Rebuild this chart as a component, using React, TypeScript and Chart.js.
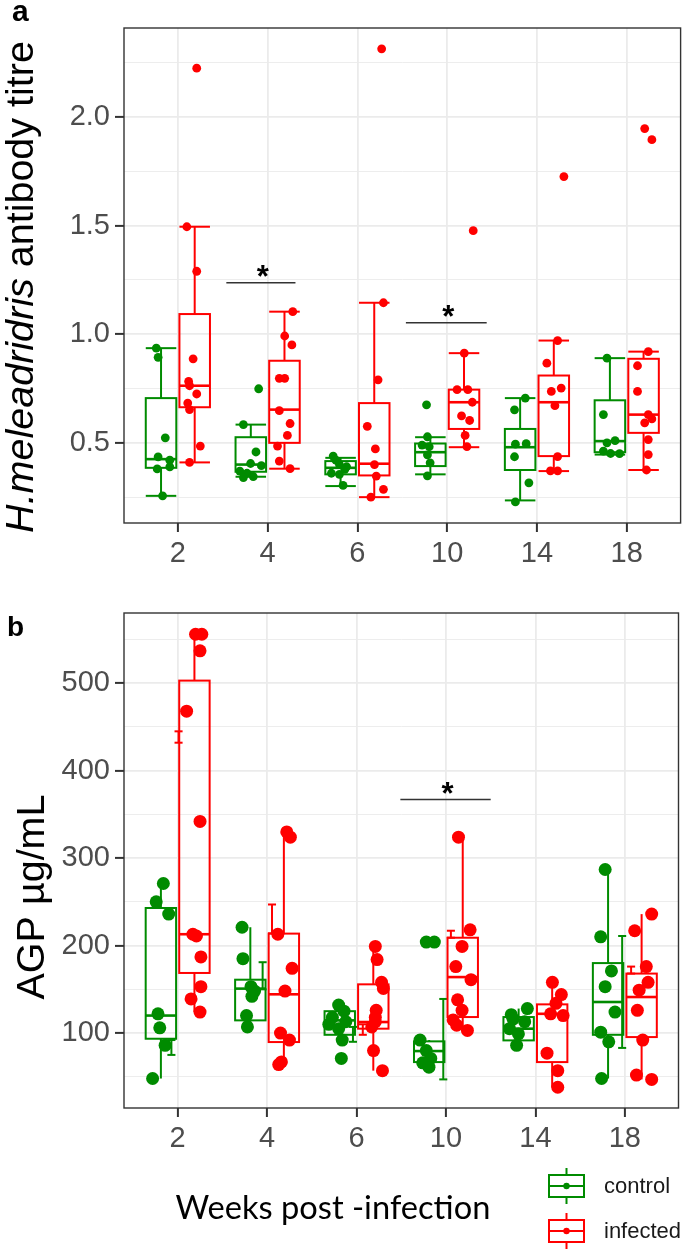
import React, { useEffect, useRef } from 'react';
import { Chart, registerables } from 'chart.js';

Chart.register(...registerables);

// ---------- data ----------
const weeks = ['2', '4', '6', '10', '14', '18'];
const groupNames = ['control', 'infected'];
const GREEN = '#008B00';
const RED = '#FF0000';

// Panel a: H. meleagridis antibody titre
// box stats per week: [lower whisker, Q1, median, Q3, upper whisker]
const titreCtrlBox = [
  [0.256, 0.385, 0.425, 0.706, 0.936],
  [0.344, 0.367, 0.4, 0.526, 0.584],
  [0.301, 0.355, 0.385, 0.416, 0.431],
  [0.355, 0.393, 0.457, 0.497, 0.526],
  [0.235, 0.375, 0.48, 0.564, 0.706],
  [0.446, 0.457, 0.508, 0.696, 0.89],
];
const titreInfBox = [
  [0.41, 0.664, 0.763, 1.093, 1.495],
  [0.381, 0.5, 0.653, 0.878, 1.104],
  [0.25, 0.35, 0.404, 0.683, 1.145],
  [0.48, 0.564, 0.687, 0.745, 0.913],
  [0.37, 0.439, 0.687, 0.81, 0.971],
  [0.375, 0.546, 0.63, 0.887, 0.92],
];
const titreCtrlVals = [
  [0.936, 0.894, 0.523, 0.435, 0.42, 0.389, 0.38, 0.256],
  [0.749, 0.584, 0.458, 0.405, 0.395, 0.37, 0.36, 0.345, 0.34],
  [0.439, 0.42, 0.4, 0.39, 0.378, 0.36, 0.355, 0.304],
  [0.675, 0.528, 0.49, 0.482, 0.445, 0.408, 0.348],
  [0.706, 0.652, 0.496, 0.494, 0.436, 0.316, 0.228],
  [0.89, 0.63, 0.51, 0.5, 0.462, 0.451, 0.45],
];
const titreCtrlJitter = [
  [-0.24, -0.22, -0.14, -0.22, -0.09, -0.09, -0.23, -0.17],
  [-0.1, -0.27, -0.13, -0.19, -0.07, -0.31, -0.23, -0.16, -0.27],
  [-0.27, -0.24, -0.2, -0.12, -0.14, -0.29, -0.2, -0.16],
  [-0.23, -0.22, -0.28, -0.2, -0.22, -0.19, -0.22],
  [-0.13, -0.25, -0.12, -0.24, -0.25, -0.09, -0.24],
  [-0.22, -0.26, -0.13, -0.22, -0.26, -0.18, -0.08],
];
const titreInfVals = [
  [2.225, 1.495, 1.29, 0.887, 0.783, 0.763, 0.725, 0.683, 0.653, 0.485, 0.41],
  [1.104, 0.992, 0.951, 0.797, 0.797, 0.648, 0.589, 0.534, 0.485, 0.416, 0.381],
  [2.314, 1.145, 0.79, 0.576, 0.472, 0.4, 0.347, 0.286, 0.25],
  [1.477, 0.913, 0.745, 0.745, 0.687, 0.624, 0.603, 0.534, 0.483],
  [1.726, 0.971, 0.867, 0.752, 0.737, 0.671, 0.437, 0.371, 0.371],
  [1.947, 1.896, 0.92, 0.855, 0.737, 0.63, 0.61, 0.592, 0.515, 0.446, 0.375],
];
const titreInfJitter = [
  [0.21, 0.1, 0.21, 0.17, 0.12, 0.13, 0.21, 0.11, 0.13, 0.25, 0.13],
  [0.28, 0.19, 0.27, 0.13, 0.19, 0.13, 0.25, 0.22, 0.11, 0.13, 0.25],
  [0.27, 0.29, 0.23, 0.11, 0.2, 0.19, 0.21, 0.29, 0.15],
  [0.29, 0.19, 0.11, 0.23, 0.28, 0.16, 0.25, 0.2, 0.22],
  [0.3, 0.23, 0.11, 0.27, 0.16, 0.2, 0.23, 0.15, 0.23],
  [0.2, 0.28, 0.24, 0.12, 0.12, 0.24, 0.28, 0.2, 0.24, 0.24, 0.22],
];
const titreMajor = [0.5, 1.0, 1.5, 2.0];
const titreMinor = [0.25, 0.75, 1.25, 1.75, 2.25];
const titreRange = [0.131, 2.41];
// significance bars: [x from, x to, y]
const titreSig = [
  [1.54, 2.31, 1.237],
  [3.54, 4.44, 1.053],
];

// Panel b: AGP
const agpCtrlBox = [
  [48, 93.5, 120, 243, 271],
  [107, 114.5, 150.8, 161, 221],
  [88, 98, 114.5, 125, 132],
  [61, 66.8, 79.4, 90.5, 92],
  [86, 91.6, 105, 118.3, 128],
  [48, 98, 135.5, 180, 287],
];
const agpInfBox = [
  [124, 168.7, 213, 503, 556],
  [64, 89.7, 144.3, 213.7, 330],
  [57, 105, 112.6, 155.7, 199],
  [103, 118.3, 164, 209, 324],
  [38, 66.8, 122, 132.8, 158],
  [47, 95.4, 141.2, 168, 236],
];
const agpCtrlVals = [
  [271, 250, 236, 122, 106, 86, 48],
  [221, 185, 153, 148, 142, 120, 107],
  [132, 125, 118, 113, 110, 105, 92, 71],
  [204, 204, 92, 80, 71, 66, 61],
  [128, 121, 116, 113, 105, 99, 86],
  [287, 210, 171, 153, 124, 101, 90, 48],
];
const agpCtrlJitter = [
  [-0.16, -0.24, -0.1, -0.22, -0.2, -0.14, -0.28],
  [-0.28, -0.27, -0.18, -0.14, -0.17, -0.23, -0.22],
  [-0.2, -0.14, -0.27, -0.12, -0.31, -0.2, -0.16, -0.17],
  [-0.22, -0.13, -0.29, -0.22, -0.17, -0.26, -0.19],
  [-0.09, -0.27, -0.25, -0.12, -0.29, -0.19, -0.21],
  [-0.22, -0.27, -0.15, -0.22, -0.11, -0.27, -0.18, -0.26],
];
const agpInfVals = [
  [556, 556, 537, 468, 342, 213, 211, 187, 153, 139, 124],
  [330, 324, 213, 174, 148, 100, 92, 67, 64],
  [199, 184, 158, 151, 126, 118, 113, 107, 80, 57],
  [324, 218, 199, 176, 161, 138, 126, 115, 109, 103],
  [158, 144, 134, 122, 120, 77, 57, 38],
  [236, 217, 176, 158, 149, 126, 92, 52, 47],
];
const agpInfJitter = [
  [0.2, 0.27, 0.25, 0.1, 0.25, 0.17, 0.21, 0.26, 0.26, 0.15, 0.25],
  [0.22, 0.26, 0.12, 0.28, 0.2, 0.15, 0.25, 0.16, 0.13],
  [0.21, 0.23, 0.28, 0.3, 0.22, 0.21, 0.21, 0.17, 0.19, 0.29],
  [0.14, 0.27, 0.18, 0.11, 0.28, 0.13, 0.18, 0.08, 0.12, 0.24],
  [0.19, 0.29, 0.23, 0.17, 0.31, 0.13, 0.25, 0.25],
  [0.3, 0.11, 0.24, 0.26, 0.16, 0.14, 0.2, 0.13, 0.3],
];
// small error bars: [x offset, low, high] (null = none)
const agpCtrlErr = [
  [-0.07, 75, 92],
  [-0.05, 150, 181],
  [-0.04, 90, 107],
  [-0.03, 47, 139],
  null,
  [-0.03, 83, 211],
];
const agpInfErr = [
  [0.01, 432, 445],
  [0.055, 214, 247],
  [0.07, 98, 110],
  [0.055, 209, 217],
  null,
  [0.07, 168, 176],
];
const agpMajor = [100, 200, 300, 400, 500];
const agpMinor = [50, 150, 250, 350, 450, 550];
const agpRange = [14.3, 580.3];
const agpSig = [[3.49, 4.5, 367]];

// ---------- helpers ----------
const BOX_OFFSET = 0.1875;
const BOX_WIDTH = 0.34;
const TICK_FONT = { family: "'Liberation Sans', Arial, sans-serif", size: 29 };
const TICK_COLOR = '#4D4D4D';

function pointsOf(vals: number[][], jit: number[][]) {
  const out: { x: number; y: number }[] = [];
  vals.forEach((arr, i) => arr.forEach((v, j) => out.push({ x: i + 1 + jit[i][j], y: v })));
  return out;
}

const near = (a: number, list: number[]) => list.some((m) => Math.abs(m - a) < 1e-6);

function line(ctx: CanvasRenderingContext2D, x1: number, y1: number, x2: number, y2: number) {
  ctx.beginPath();
  ctx.moveTo(x1, y1);
  ctx.lineTo(x2, y2);
  ctx.stroke();
}

const boxPlugin = {
  id: 'boxes',
  beforeDatasetsDraw(chart: any, _a: any, opts: any) {
    const { ctx, scales } = chart;
    const x = scales.x;
    const y = scales.y;
    ctx.save();
    ctx.lineWidth = 2;
    ctx.lineCap = 'butt';
    (opts.groups || []).forEach((g: any) => {
      ctx.strokeStyle = g.color;
      if (g.errs) {
        g.errs.forEach((e: any, i: number) => {
          if (!e) return;
          const cx = x.getPixelForValue(i + 1 + e[0]);
          const lo = y.getPixelForValue(e[1]);
          const hi = y.getPixelForValue(e[2]);
          const hw = 0.045 * (x.getPixelForValue(2) - x.getPixelForValue(1));
          line(ctx, cx, lo, cx, hi);
          line(ctx, cx - hw, lo, cx + hw, lo);
          line(ctx, cx - hw, hi, cx + hw, hi);
        });
      }
      g.stats.forEach((s: number[], i: number) => {
        const c = i + 1 + g.offset;
        const xl = x.getPixelForValue(c - BOX_WIDTH / 2);
        const xr = x.getPixelForValue(c + BOX_WIDTH / 2);
        const xc = x.getPixelForValue(c);
        const [lo, q1, med, q3, hi] = s.map((v) => y.getPixelForValue(v));
        line(ctx, xc, q3, xc, hi);
        line(ctx, xc, q1, xc, lo);
        if (opts.caps) {
          line(ctx, xl, hi, xr, hi);
          line(ctx, xl, lo, xr, lo);
        }
        ctx.strokeRect(xl, q3, xr - xl, q1 - q3);
        ctx.lineWidth = 2.6;
        line(ctx, xl, med, xr, med);
        ctx.lineWidth = 2;
      });
    });
    ctx.restore();
  },
  afterDatasetsDraw(chart: any, _a: any, opts: any) {
    const { ctx, scales, chartArea } = chart;
    const x = scales.x;
    const y = scales.y;
    ctx.save();
    // significance bars
    (opts.sig || []).forEach((s: number[]) => {
      const x1 = x.getPixelForValue(s[0]);
      const x2 = x.getPixelForValue(s[1]);
      const yy = y.getPixelForValue(s[2]);
      ctx.strokeStyle = '#333333';
      ctx.lineWidth = 1.6;
      line(ctx, x1, yy, x2, yy);
      ctx.fillStyle = '#000000';
      ctx.font = "bold 31px 'Liberation Sans', Arial, sans-serif";
      ctx.textAlign = 'center';
      ctx.textBaseline = 'alphabetic';
      ctx.fillText('*', (x1 + x2) / 2 + 2, yy + 4);
    });
    // panel border
    ctx.strokeStyle = '#333333';
    ctx.lineWidth = 1.4;
    ctx.strokeRect(chartArea.left, chartArea.top, chartArea.right - chartArea.left, chartArea.bottom - chartArea.top);
    ctx.restore();
  },
  afterDraw(chart: any, _a: any, opts: any) {
    const { ctx } = chart;
    ctx.save();
    // panel letter
    ctx.fillStyle = '#000';
    ctx.font = `bold ${opts.letter.size}px 'Liberation Sans', Arial, sans-serif`;
    ctx.textAlign = 'left';
    ctx.textBaseline = 'alphabetic';
    ctx.fillText(opts.letter.text, opts.letter.x, opts.letter.y);
    // y title (rotated, possibly with italic part), fitted to given length
    const parts: [string, boolean][] = opts.ytitle.parts;
    const fam = "'Liberation Sans', Arial, sans-serif";
    let total = 0;
    parts.forEach(([t, it]) => {
      ctx.font = `${it ? 'italic ' : ''}100px ${fam}`;
      total += ctx.measureText(t).width;
    });
    const size = (100 * opts.ytitle.length) / total;
    ctx.translate(opts.ytitle.x, opts.ytitle.cy);
    ctx.rotate(-Math.PI / 2);
    let w = 0;
    parts.forEach(([t, it]) => {
      ctx.font = `${it ? 'italic ' : ''}${size}px ${fam}`;
      w += ctx.measureText(t).width;
    });
    let px = -w / 2;
    parts.forEach(([t, it]) => {
      ctx.font = `${it ? 'italic ' : ''}${size}px ${fam}`;
      ctx.fillText(t, px, 0);
      px += ctx.measureText(t).width;
    });
    ctx.restore();

    if (opts.legend) {
      ctx.save();
      const L = opts.legend;
      // x axis title
      ctx.font = `100px Lato, 'Open Sans', sans-serif`;
      const tw = ctx.measureText(L.xtitle).width;
      ctx.font = `${(100 * L.xtitleWidth) / tw}px Lato, 'Open Sans', sans-serif`;
      ctx.fillStyle = '#000';
      ctx.textAlign = 'center';
      ctx.textBaseline = 'middle';
      ctx.fillText(L.xtitle, L.xtitleX, L.xtitleY);
      // legend keys
      L.items.forEach((it: any, k: number) => {
        const cy = L.y0 + k * L.dy;
        const x0 = L.x;
        const kw = 35;
        ctx.strokeStyle = it.color;
        ctx.fillStyle = it.color;
        ctx.lineWidth = 2;
        line(ctx, x0 + kw / 2, cy - 18, x0 + kw / 2, cy - 11);
        line(ctx, x0 + kw / 2, cy + 11, x0 + kw / 2, cy + 18);
        ctx.strokeRect(x0, cy - 11, kw, 22);
        line(ctx, x0, cy, x0 + kw, cy);
        ctx.beginPath();
        ctx.arc(x0 + kw / 2, cy, 3.2, 0, Math.PI * 2);
        ctx.fill();
        ctx.fillStyle = '#1a1a1a';
        ctx.font = "22px 'Liberation Sans', Arial, sans-serif";
        ctx.textAlign = 'left';
        ctx.textBaseline = 'middle';
        ctx.fillText(it.label, x0 + 55, cy + 1);
      });
      ctx.restore();
    }
  },
};

function makeConfig(p: any) {
  const ticksAll = [...p.major, ...p.minor].sort((a: number, b: number) => a - b);
  return {
    type: 'scatter',
    data: {
      datasets: [
        {
          label: groupNames[0],
          data: pointsOf(p.ctrlVals, p.ctrlJit),
          pointRadius: p.radius,
          pointBorderWidth: 0,
          pointBackgroundColor: GREEN,
          borderColor: GREEN,
        },
        {
          label: groupNames[1],
          data: pointsOf(p.infVals, p.infJit),
          pointRadius: p.radius,
          pointBorderWidth: 0,
          pointBackgroundColor: RED,
          borderColor: RED,
        },
      ],
    },
    options: {
      responsive: false,
      animation: false,
      events: [],
      layout: { padding: { top: p.padTop, right: 4, bottom: p.padBottom, left: 0 } },
      plugins: {
        legend: { display: false },
        tooltip: { enabled: false },
        boxes: {
          caps: p.caps,
          groups: [
            { stats: p.ctrlBox, offset: -BOX_OFFSET, color: GREEN, errs: p.ctrlErr },
            { stats: p.infBox, offset: BOX_OFFSET, color: RED, errs: p.infErr },
          ],
          sig: p.sig,
          letter: p.letter,
          ytitle: p.ytitle,
          legend: p.legend,
        },
      },
      scales: {
        x: {
          type: 'linear',
          min: 0.4,
          max: 6.6,
          afterBuildTicks: (s: any) => {
            s.ticks = weeks.map((_, i) => ({ value: i + 1 }));
          },
          afterFit: (s: any) => {
            s.height = p.xHeight;
          },
          ticks: {
            autoSkip: false,
            maxRotation: 0,
            padding: 5,
            font: TICK_FONT,
            color: TICK_COLOR,
            callback: (v: number) => weeks[Math.round(v) - 1],
          },
          grid: { color: '#EBEBEB', lineWidth: 1.8, tickColor: '#333333', tickLength: 9, tickWidth: 2 },
          border: { display: false },
        },
        y: {
          type: 'linear',
          min: p.range[0],
          max: p.range[1],
          afterBuildTicks: (s: any) => {
            s.ticks = ticksAll.map((v: number) => ({ value: v }));
          },
          afterFit: (s: any) => {
            s.width = 124;
          },
          ticks: {
            autoSkip: false,
            padding: 5,
            font: TICK_FONT,
            color: TICK_COLOR,
            callback: (v: number) => (near(v, p.major) ? p.fmt(v) : ''),
          },
          grid: {
            color: '#EBEBEB',
            lineWidth: (c: any) => (c.tick && near(c.tick.value, p.major) ? 1.8 : 0.9),
            tickColor: (c: any) => (c.tick && near(c.tick.value, p.major) ? '#333333' : 'rgba(0,0,0,0)'),
            tickLength: 9,
            tickWidth: 2,
          },
          border: { display: false },
        },
      },
    },
    plugins: [boxPlugin],
  };
}

function ChartCanvas({ cfg, height }: { cfg: any; height: number }) {
  const ref = useRef<HTMLCanvasElement>(null);
  useEffect(() => {
    if (!ref.current) return;
    const chart = new Chart(ref.current, cfg);
    return () => chart.destroy();
  }, []);
  return <canvas ref={ref} width={685} height={height} style={{ display: 'block', width: 685, height }} />;
}

export default function App() {
  const cfgA = makeConfig({
    ctrlBox: titreCtrlBox,
    infBox: titreInfBox,
    ctrlVals: titreCtrlVals,
    ctrlJit: titreCtrlJitter,
    infVals: titreInfVals,
    infJit: titreInfJitter,
    major: titreMajor,
    minor: titreMinor,
    range: titreRange,
    fmt: (v: number) => v.toFixed(1),
    radius: 4.4,
    caps: true,
    sig: titreSig,
    padTop: 28,
    padBottom: 0,
    xHeight: 67,
    letter: { text: 'a', x: 12, y: 21, size: 30 },
    ytitle: {
      parts: [
        ['H.meleadridris', true],
        [' antibody titre', false],
      ],
      length: 492,
      x: 33,
      cy: 287,
    },
  });
  const cfgB = makeConfig({
    ctrlBox: agpCtrlBox,
    infBox: agpInfBox,
    ctrlVals: agpCtrlVals,
    ctrlJit: agpCtrlJitter,
    infVals: agpInfVals,
    infJit: agpInfJitter,
    ctrlErr: agpCtrlErr,
    infErr: agpInfErr,
    major: agpMajor,
    minor: agpMinor,
    range: agpRange,
    fmt: (v: number) => String(v),
    radius: 6.5,
    caps: false,
    sig: agpSig,
    padTop: 23,
    padBottom: 92,
    xHeight: 50,
    letter: { text: 'b', x: 7, y: 46, size: 28 },
    ytitle: { parts: [['AGP µg/mL', false]], length: 205, x: 44, cy: 307 },
    legend: {
      xtitle: 'Weeks post -infection',
      xtitleWidth: 315,
      xtitleX: 333,
      xtitleY: 618,
      x: 549,
      y0: 596,
      dy: 45,
      items: [
        { label: groupNames[0], color: GREEN },
        { label: groupNames[1], color: RED },
      ],
    },
  });
  return (
    <div style={{ position: 'absolute', left: 0, top: 0, width: 685, height: 1250, background: '#ffffff' }}>
      <ChartCanvas cfg={cfgA} height={590} />
      <ChartCanvas cfg={cfgB} height={660} />
    </div>
  );
}
